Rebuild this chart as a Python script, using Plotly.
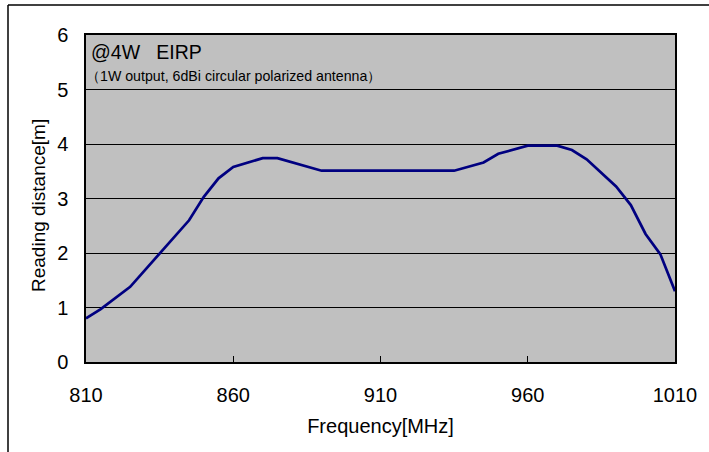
import plotly.graph_objects as go

freq_mhz = [810, 815, 825, 835, 845, 850, 855, 860, 870, 875, 890, 935, 945, 950,
            960, 970, 975, 980, 990, 995, 1000, 1005, 1010]
distance_m = [0.80, 0.97, 1.38, 1.99, 2.60, 3.03, 3.37, 3.58, 3.74, 3.74, 3.51, 3.51, 3.66, 3.82,
              3.97, 3.97, 3.89, 3.72, 3.22, 2.88, 2.35, 1.98, 1.30]

x_ticks = [810, 860, 910, 960, 1010]
y_ticks = [0, 1, 2, 3, 4, 5, 6]

FONT = "Liberation Sans, Arial, sans-serif"

fig = go.Figure()
fig.add_trace(go.Scatter(x=freq_mhz, y=distance_m, mode="lines",
                         line=dict(color="#000080", width=2.7), showlegend=False))

L, R, T, B = 86, 675, 35, 362
W, H = 709, 452
pw, ph = R - L, B - T

def px(x):
    return (x - L) / pw

def py(y):
    return (B - y) / ph

fig.update_layout(
    width=W, height=H,
    margin=dict(l=L, r=W - R, t=T, b=H - B, pad=0),
    paper_bgcolor="white",
    plot_bgcolor="#c0c0c0",
    font=dict(family=FONT, size=20, color="black"),
    xaxis=dict(range=[810, 1010], tickvals=x_ticks, ticktext=[str(v) for v in x_ticks],
               ticks="inside", ticklen=6, tickcolor="black", showgrid=False,
               showline=True, linecolor="black", linewidth=1.5, mirror=True,
               zeroline=False, ticklabelstandoff=14,
               title=dict(text="Frequency[MHz]", standoff=14, font=dict(size=20)),
               tickfont=dict(size=20)),
    yaxis=dict(range=[0, 6], tickvals=y_ticks, ticks="inside", ticklen=5, tickcolor="black",
               showgrid=True, gridcolor="black", gridwidth=1,
               showline=True, linecolor="black", linewidth=1.5, mirror=True,
               zeroline=False, ticklabelstandoff=12,
               tickfont=dict(size=20)),
    shapes=[
        dict(type="line", xref="paper", yref="paper", x0=px(8), y0=py(5), x1=px(712), y1=py(5),
             line=dict(color="black", width=1.5)),
        dict(type="line", xref="paper", yref="paper", x0=px(8), y0=py(5), x1=px(8), y1=py(455),
             line=dict(color="black", width=1.5)),
    ],
    annotations=[
        dict(text="Reading distance[m]", xref="paper", yref="paper", x=px(38), y=py(206),
             xanchor="center", yanchor="middle", textangle=-90, showarrow=False,
             font=dict(size=19)),
        dict(text="@4W   EIRP", xref="paper", yref="paper", x=px(89), y=py(52),
             xanchor="left", yanchor="middle", showarrow=False, font=dict(size=19.5)),
        dict(text="（1W output, 6dBi circular polarized antenna）", xref="paper", yref="paper",
             x=px(84), y=py(76), xanchor="left", yanchor="middle", showarrow=False,
             font=dict(size=14.2)),
    ],
)

fig.write_html("out.html", config={"displayModeBar": False},
               post_script="document.body.style.margin='0px';")
